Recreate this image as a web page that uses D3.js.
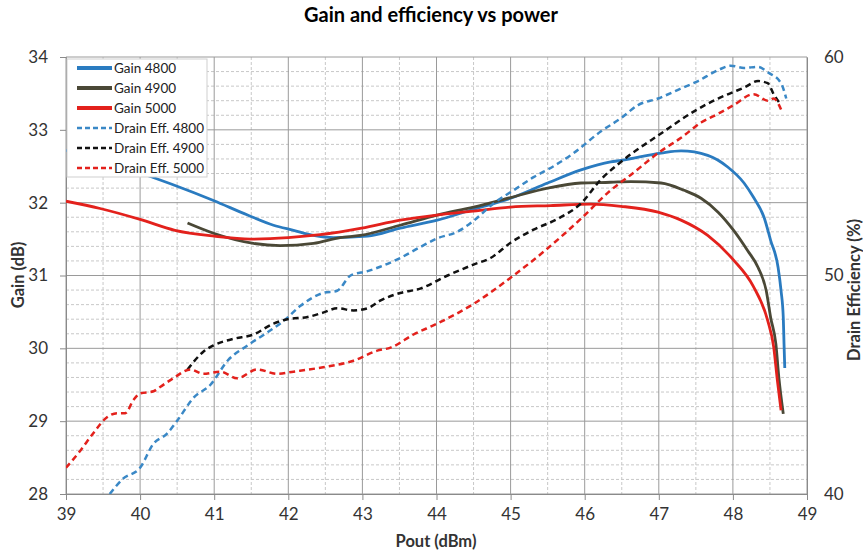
<!DOCTYPE html>
<html>
<head>
<meta charset="utf-8">
<script src="https://cdn.jsdelivr.net/npm/d3@7"></script>
<style>
    body { margin: 0; background: #fff; }
    svg { font-family: Lato, "Open Sans", sans-serif; }
</style>
</head>
<body>
<svg width="863" height="553"></svg>
<script>
// data: [Pout (dBm), value]
const gain4800 = [
    [39.0, 32.72], [40.14, 32.36], [40.72, 32.14], [40.99, 32.03], [41.45, 31.83],
    [41.8, 31.69], [42.07, 31.62], [42.34, 31.55], [42.61, 31.52], [43.07, 31.54],
    [43.51, 31.65], [44.01, 31.76], [44.5, 31.91], [45.0, 32.06], [45.5, 32.27],
    [45.95, 32.45], [46.35, 32.56], [46.49, 32.58], [47.03, 32.68], [47.3, 32.71],
    [47.66, 32.65], [47.93, 32.49], [48.15, 32.27], [48.28, 32.07], [48.42, 31.8],
    [48.51, 31.48], [48.61, 31.11], [48.65, 30.79], [48.68, 30.42], [48.69, 30.06],
    [48.7, 29.73]
];
const gain4900 = [
    [40.64, 31.72], [40.99, 31.58], [41.53, 31.44], [41.89, 31.41], [42.34, 31.44],
    [42.7, 31.52], [42.97, 31.55], [43.51, 31.69], [44.01, 31.83], [44.5, 31.94],
    [45.0, 32.07], [45.5, 32.2], [45.95, 32.27], [46.35, 32.28], [46.62, 32.29],
    [47.03, 32.27], [47.34, 32.17], [47.57, 32.06], [47.8, 31.87], [48.01, 31.62],
    [48.2, 31.34], [48.34, 31.11], [48.45, 30.79], [48.51, 30.42], [48.58, 30.06],
    [48.62, 29.6], [48.68, 29.1]
];
const gain5000 = [
    [39.0, 32.02], [39.46, 31.92], [40.0, 31.77], [40.47, 31.62], [41.0, 31.54],
    [41.49, 31.5], [42.0, 31.52], [42.43, 31.56], [42.99, 31.65], [43.51, 31.76],
    [44.0, 31.83], [44.46, 31.88], [45.0, 31.94], [45.54, 31.96], [46.08, 31.98],
    [46.49, 31.95], [46.99, 31.87], [47.3, 31.76], [47.66, 31.55], [48.01, 31.21],
    [48.27, 30.86], [48.47, 30.38], [48.55, 30.02], [48.6, 29.56], [48.65, 29.15]
];
const eff4800 = [
    [39.59, 40.0], [39.77, 40.7], [40.0, 41.2], [40.18, 42.3], [40.36, 42.75],
    [40.5, 43.35], [40.72, 44.4], [40.95, 45.0], [41.18, 46.1], [41.45, 46.8],
    [41.72, 47.4], [41.93, 47.9], [42.16, 48.6], [42.47, 49.2], [42.66, 49.3],
    [42.84, 50.0], [43.07, 50.2], [43.24, 50.4], [43.51, 50.8], [43.78, 51.3],
    [44.01, 51.7], [44.28, 52.0], [44.5, 52.5], [44.77, 53.3], [45.04, 53.9],
    [45.31, 54.5], [45.58, 55.0], [45.85, 55.6], [46.22, 56.6], [46.49, 57.2],
    [46.72, 57.8], [46.99, 58.1], [47.26, 58.5], [47.53, 58.9], [47.8, 59.4],
    [47.97, 59.6], [48.15, 59.5], [48.34, 59.55], [48.47, 59.3], [48.65, 58.8],
    [48.72, 58.1]
];
const eff4900 = [
    [40.64, 45.7], [40.85, 46.5], [40.99, 46.8], [41.26, 47.1], [41.53, 47.3],
    [41.8, 47.8], [41.99, 48.0], [42.26, 48.1], [42.47, 48.3], [42.66, 48.5],
    [42.88, 48.4], [43.07, 48.5], [43.24, 48.85], [43.51, 49.2], [43.78, 49.4],
    [44.15, 50.0], [44.5, 50.5], [44.73, 50.8], [45.0, 51.5], [45.31, 52.1],
    [45.64, 52.6], [45.95, 53.3], [46.22, 54.4], [46.49, 55.2], [47.03, 56.5],
    [47.47, 57.5], [47.8, 58.1], [48.01, 58.4], [48.15, 58.6], [48.34, 58.9],
    [48.47, 58.8], [48.55, 58.3], [48.65, 57.8]
];
const eff5000 = [
    [39.0, 41.2], [39.19, 41.97], [39.36, 42.75], [39.55, 43.5], [39.69, 43.7],
    [39.8, 43.7], [39.91, 44.3], [40.0, 44.6], [40.18, 44.7], [40.27, 44.9],
    [40.45, 45.3], [40.68, 45.7], [40.85, 45.5], [41.08, 45.6], [41.31, 45.3],
    [41.58, 45.7], [41.85, 45.5], [42.07, 45.6], [42.47, 45.8], [42.88, 46.1],
    [43.2, 46.56], [43.38, 46.7], [43.69, 47.3], [44.01, 47.8], [44.5, 48.7],
    [45.0, 49.9], [45.45, 51.1], [45.95, 52.6], [46.35, 53.9], [46.62, 54.6],
    [47.03, 55.7], [47.3, 56.3], [47.57, 57.0], [47.8, 57.4], [48.01, 57.8],
    [48.28, 58.3], [48.47, 58.0], [48.55, 58.1], [48.65, 57.6]
];

const xTicks = [39, 40, 41, 42, 43, 44, 45, 46, 47, 48, 49];
const gainTicks = [28, 29, 30, 31, 32, 33, 34];
const effTicks = [40, 50, 60];

const series = [
    { name: "Gain 4800", data: gain4800, axis: "gain", color: "#2a7bc0", dash: null },
    { name: "Gain 4900", data: gain4900, axis: "gain", color: "#4a4836", dash: null },
    { name: "Gain 5000", data: gain5000, axis: "gain", color: "#e3211c", dash: null },
    { name: "Drain Eff. 4800", data: eff4800, axis: "eff", color: "#3a88c6", dash: "6,4" },
    { name: "Drain Eff. 4900", data: eff4900, axis: "eff", color: "#111111", dash: "6,4" },
    { name: "Drain Eff. 5000", data: eff5000, axis: "eff", color: "#e3211c", dash: "6,4" }
];

var svg = d3.select("svg");
var plotL = 66, plotR = 807, plotT = 57, plotB = 494;

var x = d3.scaleLinear().domain([39, 49]).range([plotL, plotR]);
var yGain = d3.scaleLinear().domain([28, 34]).range([plotB, plotT]);
var yEff = d3.scaleLinear().domain([40, 60]).range([plotB, plotT]);

// minor grid
svg.append("g")
    .selectAll("line")
    .data(d3.range(39.5, 49, 1))
    .enter()
    .append("line")
    .attr("x1", d => x(d)).attr("x2", d => x(d))
    .attr("y1", plotT).attr("y2", plotB)
    .attr("stroke", "#c8c8c8")
    .attr("stroke-dasharray", "3,2");

svg.append("g")
    .selectAll("line")
    .data(d3.range(28.2, 34, 0.2).filter(d => Math.abs(d - Math.round(d)) > 0.05))
    .enter()
    .append("line")
    .attr("x1", plotL).attr("x2", plotR)
    .attr("y1", d => yGain(d)).attr("y2", d => yGain(d))
    .attr("stroke", "#c8c8c8")
    .attr("stroke-dasharray", "3,2");

// major grid
svg.append("g")
    .selectAll("line")
    .data(xTicks)
    .enter()
    .append("line")
    .attr("x1", d => x(d)).attr("x2", d => x(d))
    .attr("y1", plotT).attr("y2", plotB)
    .attr("stroke", "#9a9a9a");

svg.append("g")
    .selectAll("line")
    .data(gainTicks)
    .enter()
    .append("line")
    .attr("x1", plotL).attr("x2", plotR)
    .attr("y1", d => yGain(d)).attr("y2", d => yGain(d))
    .attr("stroke", "#9a9a9a");

// axes
var xAxis = svg.append("g")
    .attr("transform", "translate(0," + plotB + ")")
    .call(d3.axisBottom(x).tickValues(xTicks).tickSize(6).tickPadding(8));

var gAxis = svg.append("g")
    .attr("transform", "translate(" + plotL + ",0)")
    .call(d3.axisLeft(yGain).tickValues(gainTicks).tickFormat(d3.format("d"))
        .tickSize(6).tickPadding(12));

var eAxis = svg.append("g")
    .attr("transform", "translate(" + plotR + ",0)")
    .call(d3.axisRight(yEff).tickValues(effTicks).tickFormat(d3.format("d"))
        .tickSize(0).tickPadding(17));

[xAxis, gAxis, eAxis].forEach(a => {
    a.select(".domain").attr("stroke", "#8a8a8a");
    a.selectAll(".tick line").attr("stroke", "#8a8a8a");
    a.selectAll(".tick text")
        .attr("fill", "#333")
        .style("font-size", "17px")
        .style("font-family", "Lato, sans-serif");
});

// lines
svg.append("clipPath").attr("id", "plotClip")
    .append("rect")
    .attr("x", plotL).attr("y", plotT)
    .attr("width", plotR - plotL).attr("height", plotB - plotT);

var plot = svg.append("g").attr("clip-path", "url(#plotClip)");

series.forEach(s => {
    var yScale = s.axis == "gain" ? yGain : yEff;
    var line = d3.line()
        .x(d => x(d[0]))
        .y(d => yScale(d[1]))
        .curve(d3.curveMonotoneX);
    plot.append("path")
        .datum(s.data)
        .attr("fill", "none")
        .attr("stroke", s.color)
        .attr("stroke-width", s.dash ? 2.5 : 2.8)
        .attr("stroke-dasharray", s.dash)
        .attr("d", line);
});

// legend
var legend = svg.append("g");
legend.append("rect")
    .attr("x", 67).attr("y", 59)
    .attr("width", 140).attr("height", 118)
    .attr("fill", "#fff")
    .attr("stroke", "#cfcfcf");

series.forEach((s, i) => {
    var ly = 68 + i * 20;
    legend.append("line")
        .attr("x1", 77).attr("x2", 112)
        .attr("y1", ly).attr("y2", ly)
        .attr("stroke", s.color)
        .attr("stroke-width", s.dash ? 2.5 : 4)
        .attr("stroke-dasharray", s.dash ? "5,3" : null);
    legend.append("text")
        .attr("x", 114).attr("y", ly + 5)
        .style("font-size", "13.5px")
        .attr("fill", "#222")
        .text(s.name);
});

// titles
svg.append("text")
    .attr("x", 431).attr("y", 22)
    .attr("text-anchor", "middle")
    .style("font-size", "20px")
    .style("font-weight", "bold")
    .text("Gain and efficiency vs power");

svg.append("text")
    .attr("x", 436).attr("y", 547)
    .attr("text-anchor", "middle")
    .style("font-size", "16.5px")
    .style("font-weight", "bold")
    .attr("fill", "#333")
    .text("Pout (dBm)");

svg.append("text")
    .attr("text-anchor", "middle")
    .attr("transform", "translate(24,275)rotate(-90)")
    .style("font-size", "16.5px")
    .style("font-weight", "bold")
    .attr("fill", "#333")
    .text("Gain (dB)");

svg.append("text")
    .attr("text-anchor", "middle")
    .attr("transform", "translate(860,290)rotate(-90)")
    .style("font-size", "16.5px")
    .style("font-weight", "bold")
    .attr("fill", "#333")
    .text("Drain Efficiency (%)");
</script>
</body>
</html>
